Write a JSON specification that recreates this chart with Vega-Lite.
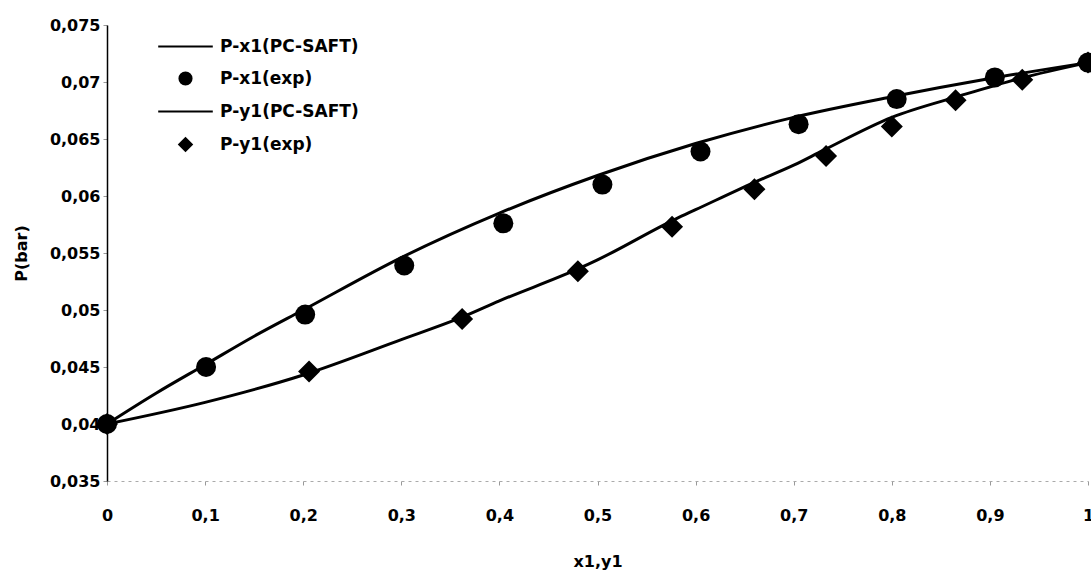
{
  "$schema": "https://vega.github.io/schema/vega-lite/v6.json",
  "autosize": {"type": "none"},
  "width": 981,
  "height": 456,
  "padding": {"left": 107, "top": 25, "right": 3, "bottom": 92},
  "background": "white",
  "config": {
    "view": {"stroke": null},
    "axis": {
      "labelFont": "DejaVu Sans",
      "labelFontWeight": "bold",
      "labelFontSize": 16,
      "labelColor": "black",
      "titleFont": "DejaVu Sans",
      "titleFontWeight": "bold",
      "titleFontSize": 16,
      "titleColor": "black",
      "grid": false,
      "tickColor": "#999999",
      "tickSize": 4
    }
  },
  "datasets": {
    "curves": [
      {"series": "P-x1(PC-SAFT)", "x": 0, "p": 0.04},
      {"series": "P-x1(PC-SAFT)", "x": 0.05, "p": 0.0427},
      {"series": "P-x1(PC-SAFT)", "x": 0.1, "p": 0.0452},
      {"series": "P-x1(PC-SAFT)", "x": 0.15, "p": 0.0477},
      {"series": "P-x1(PC-SAFT)", "x": 0.2, "p": 0.0500},
      {"series": "P-x1(PC-SAFT)", "x": 0.3, "p": 0.0546},
      {"series": "P-x1(PC-SAFT)", "x": 0.4, "p": 0.0585},
      {"series": "P-x1(PC-SAFT)", "x": 0.5, "p": 0.0618},
      {"series": "P-x1(PC-SAFT)", "x": 0.6, "p": 0.0646},
      {"series": "P-x1(PC-SAFT)", "x": 0.7, "p": 0.0669},
      {"series": "P-x1(PC-SAFT)", "x": 0.8, "p": 0.0687},
      {"series": "P-x1(PC-SAFT)", "x": 0.9, "p": 0.0703},
      {"series": "P-x1(PC-SAFT)", "x": 1, "p": 0.0717},
      {"series": "P-y1(PC-SAFT)", "x": 0, "p": 0.04},
      {"series": "P-y1(PC-SAFT)", "x": 0.1, "p": 0.0419},
      {"series": "P-y1(PC-SAFT)", "x": 0.2, "p": 0.0443},
      {"series": "P-y1(PC-SAFT)", "x": 0.3, "p": 0.0474},
      {"series": "P-y1(PC-SAFT)", "x": 0.36, "p": 0.0493},
      {"series": "P-y1(PC-SAFT)", "x": 0.4, "p": 0.0508},
      {"series": "P-y1(PC-SAFT)", "x": 0.48, "p": 0.0536},
      {"series": "P-y1(PC-SAFT)", "x": 0.5, "p": 0.0544},
      {"series": "P-y1(PC-SAFT)", "x": 0.58, "p": 0.0580},
      {"series": "P-y1(PC-SAFT)", "x": 0.6, "p": 0.0588},
      {"series": "P-y1(PC-SAFT)", "x": 0.66, "p": 0.0612},
      {"series": "P-y1(PC-SAFT)", "x": 0.7, "p": 0.0627},
      {"series": "P-y1(PC-SAFT)", "x": 0.73, "p": 0.0640},
      {"series": "P-y1(PC-SAFT)", "x": 0.8, "p": 0.0669},
      {"series": "P-y1(PC-SAFT)", "x": 0.87, "p": 0.0688},
      {"series": "P-y1(PC-SAFT)", "x": 0.93, "p": 0.0703},
      {"series": "P-y1(PC-SAFT)", "x": 1, "p": 0.0717}
    ],
    "exp": [
      {"series": "P-y1(exp)", "x": 0, "p": 0.0400},
      {"series": "P-y1(exp)", "x": 0.206, "p": 0.0446},
      {"series": "P-y1(exp)", "x": 0.362, "p": 0.0492},
      {"series": "P-y1(exp)", "x": 0.48, "p": 0.0534},
      {"series": "P-y1(exp)", "x": 0.576, "p": 0.0573},
      {"series": "P-y1(exp)", "x": 0.66, "p": 0.0606},
      {"series": "P-y1(exp)", "x": 0.733, "p": 0.0635},
      {"series": "P-y1(exp)", "x": 0.8, "p": 0.0661},
      {"series": "P-y1(exp)", "x": 0.865, "p": 0.0684},
      {"series": "P-y1(exp)", "x": 0.933, "p": 0.0702},
      {"series": "P-y1(exp)", "x": 1, "p": 0.0717},
      {"series": "P-x1(exp)", "x": 0, "p": 0.0400},
      {"series": "P-x1(exp)", "x": 0.101, "p": 0.0450},
      {"series": "P-x1(exp)", "x": 0.202, "p": 0.0496},
      {"series": "P-x1(exp)", "x": 0.303, "p": 0.0539},
      {"series": "P-x1(exp)", "x": 0.404, "p": 0.0576},
      {"series": "P-x1(exp)", "x": 0.505, "p": 0.0610},
      {"series": "P-x1(exp)", "x": 0.605, "p": 0.0639},
      {"series": "P-x1(exp)", "x": 0.705, "p": 0.0663},
      {"series": "P-x1(exp)", "x": 0.805, "p": 0.0685},
      {"series": "P-x1(exp)", "x": 0.905, "p": 0.0704},
      {"series": "P-x1(exp)", "x": 1, "p": 0.0717}
    ]
  },
  "layer": [
    {
      "mark": {"type": "rule", "color": "#aaaaaa", "strokeDash": [3, 4], "strokeWidth": 1},
      "encoding": {"y": {"datum": 0.075, "type": "quantitative"}}
    },
    {
      "mark": {"type": "rule", "color": "black", "strokeWidth": 1.5},
      "encoding": {"x": {"datum": 1, "type": "quantitative"}}
    },
    {
      "data": {"name": "curves"},
      "mark": {"type": "line", "color": "black", "strokeWidth": 3, "interpolate": "monotone"},
      "encoding": {
        "x": {
          "field": "x", "type": "quantitative",
          "scale": {"domain": [0, 1], "nice": false, "zero": false},
          "axis": {
            "title": "x1,y1",
            "values": [0, 0.1, 0.2, 0.3, 0.4, 0.5, 0.6, 0.7, 0.8, 0.9, 1],
            "labelExpr": "replace(format(datum.value, '.1~f'), '.', ',')",
            "domainColor": "#aaaaaa",
            "domainDash": [3, 4],
            "domainWidth": 1,
            "labelPadding": 22,
            "titlePadding": 30,
            "labelFlush": false
          }
        },
        "y": {
          "field": "p", "type": "quantitative",
          "scale": {"domain": [0.035, 0.075], "nice": false, "zero": false},
          "axis": {
            "title": "P(bar)",
            "values": [0.035, 0.04, 0.045, 0.05, 0.055, 0.06, 0.065, 0.07, 0.075],
            "labelExpr": "replace(format(datum.value, '.3~f'), '.', ',')",
            "domainColor": "black",
            "domainWidth": 1.5,
            "labelPadding": 3,
            "titlePadding": 20,
            "labelFlush": false
          }
        },
        "detail": {"field": "series"}
      }
    },
    {
      "data": {"name": "exp"},
      "mark": {"type": "point", "filled": true, "color": "black", "opacity": 1, "size": 400},
      "encoding": {
        "x": {"field": "x", "type": "quantitative"},
        "y": {"field": "p", "type": "quantitative"},
        "shape": {
          "field": "series", "type": "nominal",
          "scale": {
            "domain": ["P-x1(PC-SAFT)", "P-x1(exp)", "P-y1(PC-SAFT)", "P-y1(exp)"],
            "range": [
              "M-3.86,-0.15L3.86,-0.15L3.86,0.15L-3.86,0.15Z",
              "circle",
              "M-3.86,-0.13L3.86,-0.13L3.86,0.13L-3.86,0.13Z",
              "M-1.1,0L0,-1.1L1.1,0L0,1.1Z"
            ]
          },
          "legend": {
            "title": null,
            "orient": "none",
            "legendX": 70,
            "legendY": 13,
            "labelFont": "DejaVu Sans",
            "labelFontWeight": "bold",
            "labelFontSize": 17,
            "labelColor": "black",
            "labelOffset": 26,
            "symbolSize": 200,
            "symbolFillColor": "black",
            "symbolOpacity": 1,
            "rowPadding": 13
          }
        }
      }
    }
  ]
}
